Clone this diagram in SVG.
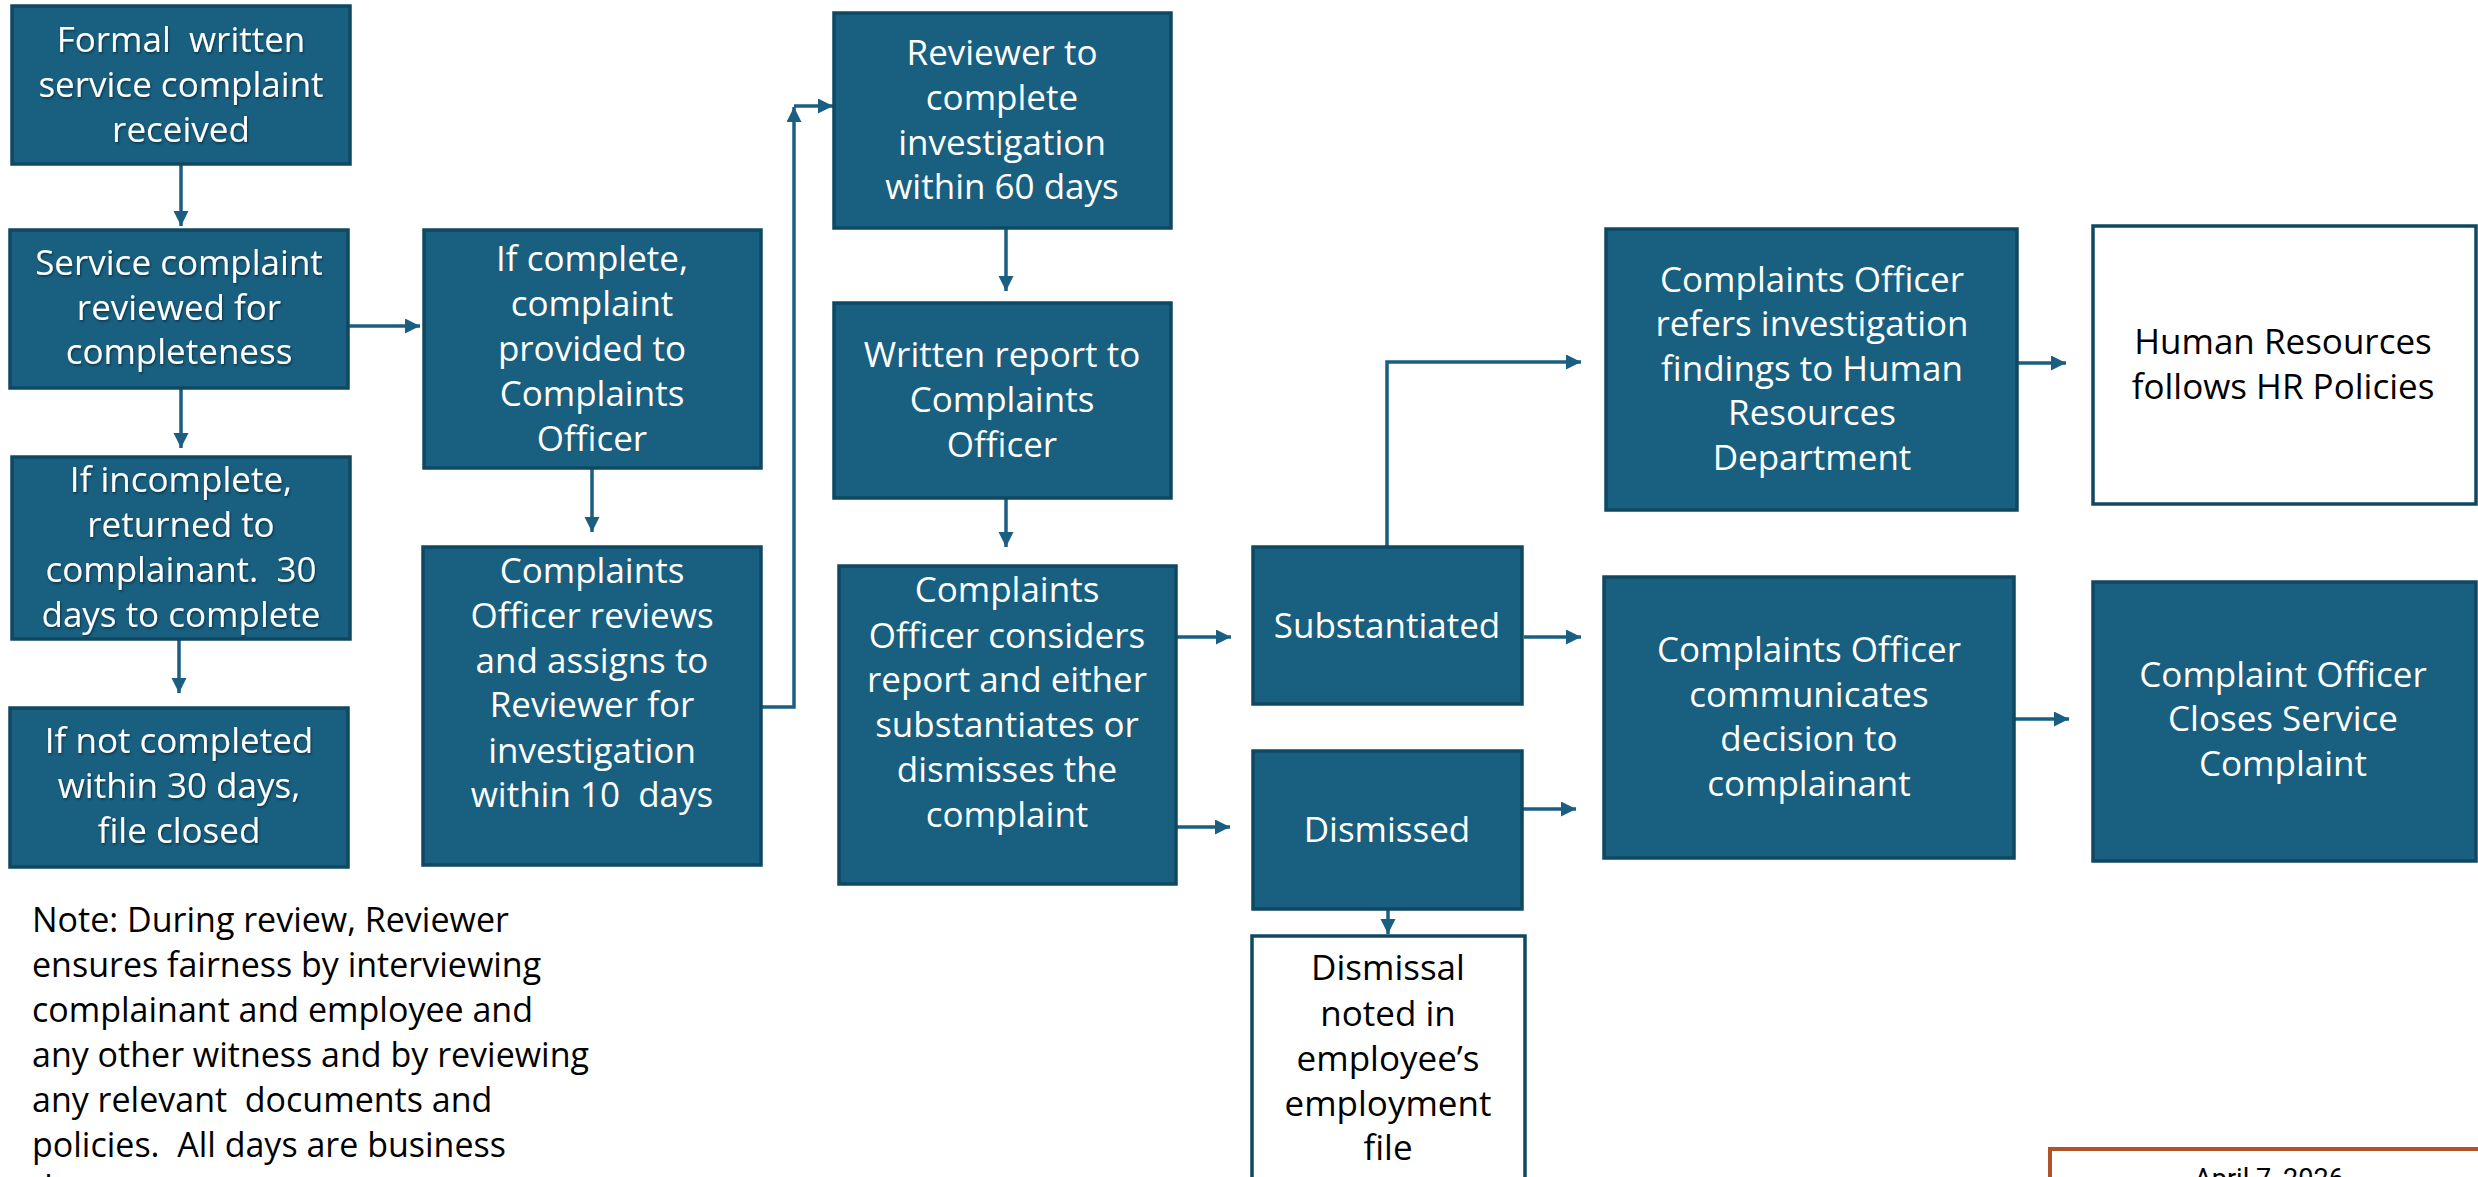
<svg xmlns="http://www.w3.org/2000/svg" width="2478" height="1177" viewBox="0 0 2478 1177">
<style>
  .box{fill:#185f80;stroke:#0f4863;stroke-width:3.5}
  .wbox{fill:#ffffff;stroke:#0f4863;stroke-width:3.5}
  .t{font-family:"Open Sans","Liberation Sans",sans-serif;font-size:35px;fill:#ffffff;text-anchor:middle;white-space:pre}
  .tb{font-family:"Open Sans","Liberation Sans",sans-serif;font-size:35px;fill:#000000;text-anchor:middle;white-space:pre}
  .note{font-family:"Open Sans","Liberation Sans",sans-serif;font-size:34px;fill:#000000;white-space:pre}
  .date{font-family:Roboto,"Liberation Sans",sans-serif;font-size:27px;fill:#000000;text-anchor:middle}
  .c{fill:none;stroke:#1a5f82;stroke-width:3.5;marker-end:url(#ah)}
  .sh{filter:url(#shadow)}
</style>
<defs>
  <marker id="ah" markerUnits="userSpaceOnUse" markerWidth="16" markerHeight="16" refX="15" refY="7.5" orient="auto">
    <path d="M0,0 L15,7.5 L0,15 z" fill="#1a5f82"/>
  </marker>
  <filter id="shadow" x="-10%" y="-20%" width="120%" height="140%">
    <feDropShadow dx="1" dy="1.5" stdDeviation="1" flood-color="#000000" flood-opacity="0.45"/>
  </filter>
</defs>
<rect x="0" y="0" width="2478" height="1177" fill="#ffffff"/>

<g id="connectors">
  <path class="c" d="M181,164 V226"/>
  <path class="c" d="M348,326 H420"/>
  <path class="c" d="M181,388 V448"/>
  <path class="c" d="M179,639 V693"/>
  <path class="c" d="M592,468 V532"/>
  <path class="c" d="M761,707 H794 V107"/>
  <path class="c" d="M794,106 H833"/>
  <path class="c" d="M1006,228 V291"/>
  <path class="c" d="M1006,498 V547"/>
  <path class="c" d="M1176,637 H1231"/>
  <path class="c" d="M1176,827 H1230"/>
  <path class="c" d="M1387,547 V362 H1581"/>
  <path class="c" d="M1524,637 H1581"/>
  <path class="c" d="M1522,809 H1576"/>
  <path class="c" d="M1388,909 V934"/>
  <path class="c" d="M2017,363 H2066"/>
  <path class="c" d="M2014,719 H2069"/>
</g>

<g id="n1">
  <rect class="box" x="12" y="6" width="338" height="158"/>
  <g class="sh"><text class="t" x="181" y="52">Formal  written</text>
  <text class="t" x="181" y="97">service complaint</text>
  <text class="t" x="181" y="142">received</text></g>
</g>
<g id="n2">
  <rect class="box" x="10" y="230" width="338" height="158"/>
  <g class="sh"><text class="t" x="179" y="275">Service complaint</text>
  <text class="t" x="179" y="320">reviewed for</text>
  <text class="t" x="179" y="364">completeness</text></g>
</g>
<g id="n3">
  <rect class="box" x="12" y="457" width="338" height="182"/>
  <g class="sh"><text class="t" x="181" y="492">If incomplete,</text>
  <text class="t" x="181" y="537">returned to</text>
  <text class="t" x="181" y="582">complainant.  30</text>
  <text class="t" x="181" y="627">days to complete</text></g>
</g>
<g id="n4">
  <rect class="box" x="10" y="708" width="338" height="159"/>
  <g class="sh"><text class="t" x="179" y="753">If not completed</text>
  <text class="t" x="179" y="798">within 30 days,</text>
  <text class="t" x="179" y="843">file closed</text></g>
</g>
<g id="note">
  <text class="note" x="32" y="932">Note: During review, Reviewer</text>
  <text class="note" x="32" y="977">ensures fairness by interviewing</text>
  <text class="note" x="32" y="1022">complainant and employee and</text>
  <text class="note" x="32" y="1067">any other witness and by reviewing</text>
  <text class="note" x="32" y="1112">any relevant  documents and</text>
  <text class="note" x="32" y="1157">policies.  All days are business</text>
  <text class="note" x="32" y="1200">days.</text>
</g>
<g id="n5">
  <rect class="box" x="424" y="230" width="337" height="238"/>
  <text class="t" x="592" y="271">If complete,</text>
  <text class="t" x="592" y="316">complaint</text>
  <text class="t" x="592" y="361">provided to</text>
  <text class="t" x="592" y="406">Complaints</text>
  <text class="t" x="592" y="451">Officer</text>
</g>
<g id="n6">
  <rect class="box" x="423" y="547" width="338" height="318"/>
  <text class="t" x="592" y="583">Complaints</text>
  <text class="t" x="592" y="628">Officer reviews</text>
  <text class="t" x="592" y="673">and assigns to</text>
  <text class="t" x="592" y="717">Reviewer for</text>
  <text class="t" x="592" y="763">investigation</text>
  <text class="t" x="592" y="807">within 10  days</text>
</g>
<g id="n7">
  <rect class="box" x="834" y="13" width="337" height="215"/>
  <text class="t" x="1002" y="65">Reviewer to</text>
  <text class="t" x="1002" y="110">complete</text>
  <text class="t" x="1002" y="155">investigation</text>
  <text class="t" x="1002" y="199">within 60 days</text>
</g>
<g id="n8">
  <rect class="box" x="834" y="303" width="337" height="195"/>
  <text class="t" x="1002" y="367">Written report to</text>
  <text class="t" x="1002" y="412">Complaints</text>
  <text class="t" x="1002" y="457">Officer</text>
</g>
<g id="n9">
  <rect class="box" x="839" y="566" width="337" height="318"/>
  <text class="t" x="1007" y="602">Complaints</text>
  <text class="t" x="1007" y="648">Officer considers</text>
  <text class="t" x="1007" y="692">report and either</text>
  <text class="t" x="1007" y="737">substantiates or</text>
  <text class="t" x="1007" y="782">dismisses the</text>
  <text class="t" x="1007" y="827">complaint</text>
</g>
<g id="n10">
  <rect class="box" x="1253" y="547" width="269" height="157"/>
  <text class="t" x="1387" y="638">Substantiated</text>
</g>
<g id="n11">
  <rect class="box" x="1253" y="751" width="269" height="158"/>
  <text class="t" x="1387" y="842">Dismissed</text>
</g>
<g id="n12">
  <rect class="wbox" x="1252" y="936" width="273" height="260"/>
  <text class="tb" x="1388" y="980">Dismissal</text>
  <text class="tb" x="1388" y="1026">noted in</text>
  <text class="tb" x="1388" y="1071">employee’s</text>
  <text class="tb" x="1388" y="1116">employment</text>
  <text class="tb" x="1388" y="1160">file</text>
</g>
<g id="n13">
  <rect class="box" x="1606" y="229" width="411" height="281"/>
  <text class="t" x="1812" y="292">Complaints Officer</text>
  <text class="t" x="1812" y="336">refers investigation</text>
  <text class="t" x="1812" y="381">findings to Human</text>
  <text class="t" x="1812" y="425">Resources</text>
  <text class="t" x="1812" y="470">Department</text>
</g>
<g id="n14">
  <rect class="wbox" x="2093" y="226" width="383" height="278"/>
  <text class="tb" x="2283" y="354">Human Resources</text>
  <text class="tb" x="2283" y="399">follows HR Policies</text>
</g>
<g id="n15">
  <rect class="box" x="1604" y="577" width="410" height="281"/>
  <text class="t" x="1809" y="662">Complaints Officer</text>
  <text class="t" x="1809" y="707">communicates</text>
  <text class="t" x="1809" y="751">decision to</text>
  <text class="t" x="1809" y="796">complainant</text>
</g>
<g id="n16">
  <rect class="box" x="2093" y="582" width="383" height="279"/>
  <text class="t" x="2283" y="687">Complaint Officer</text>
  <text class="t" x="2283" y="731">Closes Service</text>
  <text class="t" x="2283" y="776">Complaint</text>
</g>
<g id="date">
  <rect x="2050" y="1149" width="440" height="60" fill="#ffffff" stroke="#b0522a" stroke-width="4"/>
  <text class="date" x="2269" y="1188">April 7, 2026</text>
</g>
</svg>
